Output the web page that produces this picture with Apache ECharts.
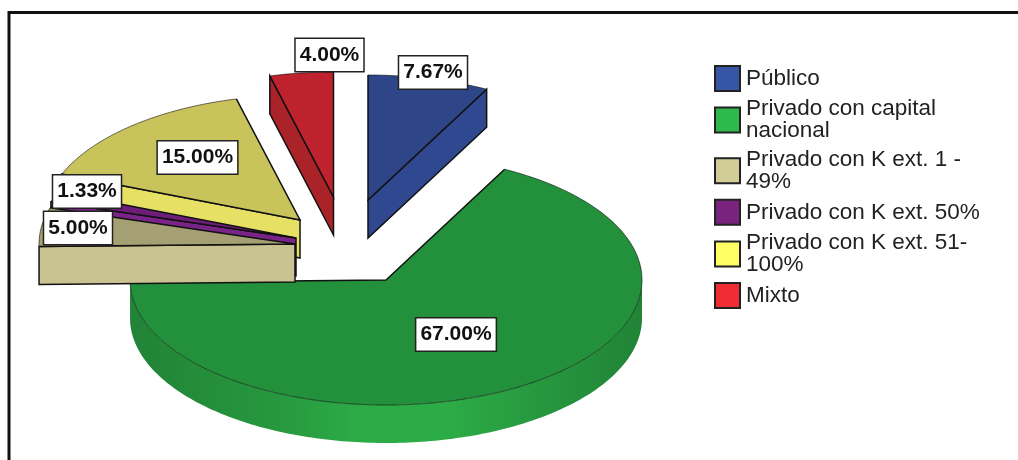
<!DOCTYPE html>
<html>
<head>
<meta charset="utf-8">
<style>html,body{margin:0;padding:0;background:#fff}#chart{width:1018px;height:460px}</style>
<script src="https://cdn.jsdelivr.net/npm/echarts@6/dist/echarts.min.js"></script>
</head>
<body>
<div id="chart"></div>
<script>
// Ownership categories and their shares, in pie order (clockwise from 12 o'clock).
const categories = ['Público', 'Privado con capital nacional', 'Privado con K ext. 1 - 49%',
  'Privado con K ext. 50%', 'Privado con K ext. 51-100%', 'Mixto'];
const legendLines = ['Público', 'Privado con capital\nnacional', 'Privado con K ext. 1 -\n49%',
  'Privado con K ext. 50%', 'Privado con K ext. 51-\n100%', 'Mixto'];
const shares = [7.67, 67, 5, 1.33, 15, 4];

// Colours: legend swatch, lit top face, side wall.
const swatchColors = ['#3755a5', '#2db94b', '#d2cd96', '#78237d', '#ffff64', '#f02d32'];
const topColors = ['#2e4587', '#23913c', '#a5a073', '#6e1e78', '#c8c35a', '#be232d'];
const sideColors = ['#2f4890', '#2cac47', '#c8c391', '#7a2488', '#e6e164', '#aa2328'];

// Exploded slice apexes on the page, and label centres.
const apexes = [[368, 200], [386, 280], [295, 244], [296, 238], [300, 220], [333.5, 197]];
const labelCentres = [[433, 72.5], [456, 334.5], [78, 228], [87, 191.5], [197.5, 157.5], [329.5, 55]];
const drawOrder = [1, 4, 3, 2, 5, 0];
const wallShading = [[0, 0.76], [0.28, 0.88], [0.45, 1], [0.62, 1], [0.8, 0.88], [1, 0.76]];

const RX = 256, RY = 125, DEPTH = 38;
const total = shares.reduce((a, b) => a + b, 0);
const starts = shares.map((_, i) => shares.slice(0, i).reduce((a, b) => a + b, 0));

function onRim(apex, deg, drop) {
  const t = deg * Math.PI / 180;
  return [apex[0] + RX * Math.sin(t), apex[1] - RY * Math.cos(t) + (drop || 0)];
}
function arcPoints(apex, from, to, drop) {
  const pts = [];
  const n = Math.max(2, Math.ceil(Math.abs(to - from)));
  for (let k = 0; k <= n; k++) pts.push(onRim(apex, from + (to - from) * k / n, drop));
  return pts;
}
function shade(hex, f) {
  const c = echarts.color.parse(hex);
  return 'rgb(' + Math.round(c[0] * f) + ',' + Math.round(c[1] * f) + ',' + Math.round(c[2] * f) + ')';
}

function renderSlice(params, api) {
  const i = api.value(2);
  const apex = apexes[i];
  const a0 = api.value(1) / total * 360;
  const a1 = (api.value(1) + api.value(0)) / total * 360;
  const low = [apex[0], apex[1] + DEPTH];
  const edge = { stroke: '#111', lineWidth: 1.5, lineJoin: 'miter' };
  const children = [];

  // Cut faces that turn towards the viewer.
  if (Math.cos((a0 - 90) * Math.PI / 180) < -1e-6) {
    const p = onRim(apex, a0);
    children.push({ type: 'polygon', shape: { points: [apex, p, onRim(apex, a0, DEPTH), low] },
      style: Object.assign({ fill: sideColors[i] }, edge) });
  }
  if (Math.cos((a1 + 90) * Math.PI / 180) < -1e-6) {
    const p = onRim(apex, a1);
    children.push({ type: 'polygon', shape: { points: [apex, p, onRim(apex, a1, DEPTH), low] },
      style: Object.assign({ fill: sideColors[i] }, edge) });
  }

  // Curved outer wall, only on the front half of the ellipse.
  const w0 = Math.max(a0, 90), w1 = Math.min(a1, 270);
  if (w1 > w0) {
    const wall = arcPoints(apex, w0, w1).concat(arcPoints(apex, w1, w0, DEPTH));
    const fill = new echarts.graphic.LinearGradient(0, 0, 1, 0,
      wallShading.map(s => ({ offset: s[0], color: shade(sideColors[i], s[1]) })));
    children.push({ type: 'polygon', shape: { points: wall }, style: { fill: fill } });
  }

  // Top face, its rim and its two radial edges.
  const rim = arcPoints(apex, a0, a1);
  children.push({ type: 'polygon', shape: { points: [apex].concat(rim) }, style: { fill: topColors[i] } });
  children.push({ type: 'polyline', shape: { points: rim },
    style: { fill: 'none', stroke: 'rgba(0,0,0,0.55)', lineWidth: 1 } });
  children.push({ type: 'polyline', shape: { points: [rim[0], apex, rim[rim.length - 1]] },
    style: { fill: 'none', stroke: '#111', lineWidth: 1.5 } });
  return { type: 'group', children: children };
}

function renderLabel(params, api) {
  const i = api.value(1);
  return {
    type: 'text',
    style: {
      text: api.value(0).toFixed(2) + '%',
      x: labelCentres[i][0], y: labelCentres[i][1],
      align: 'center', verticalAlign: 'middle',
      font: 'bold 21px "Liberation Sans", Arial, sans-serif',
      fill: '#111',
      backgroundColor: '#fff', borderColor: '#222', borderWidth: 1.5,
      padding: [6, 4, 5, 4]
    }
  };
}

const sliceSeries = drawOrder.map(i => ({
  type: 'custom',
  name: categories[i],
  coordinateSystem: 'none',
  silent: true,
  itemStyle: { color: swatchColors[i] },
  data: [[shares[i], starts[i], i]],
  renderItem: renderSlice
}));

const labelSeries = {
  type: 'custom',
  name: 'etiquetas',
  coordinateSystem: 'none',
  silent: true,
  z: 5,
  data: shares.map((v, i) => [v, i]),
  renderItem: renderLabel
};

const chart = echarts.init(document.getElementById('chart'), null, { renderer: 'canvas' });
chart.setOption({
  animation: false,
  backgroundColor: '#fff',
  graphic: [{
    type: 'rect', z: 0, silent: true,
    shape: { x: 9, y: 12.5, width: 1200, height: 800 },
    style: { fill: 'none', stroke: '#111', lineWidth: 3 }
  }],
  legend: {
    left: 714, top: 65, orient: 'vertical', itemWidth: 25, itemHeight: 25, itemGap: 5.6,
    selectedMode: false, padding: 0, icon: 'rect',
    data: categories.map((name, i) => ({
      name: name,
      itemStyle: { color: swatchColors[i], borderColor: '#222', borderWidth: 2 }
    })),
    formatter: name => legendLines[categories.indexOf(name)],
    textStyle: {
      fontFamily: '"Liberation Sans", Arial, sans-serif',
      fontSize: 22.5, lineHeight: 22, color: '#222', padding: [0, 0, 0, 1]
    }
  },
  series: sliceSeries.concat([labelSeries])
});
</script>
</body>
</html>
